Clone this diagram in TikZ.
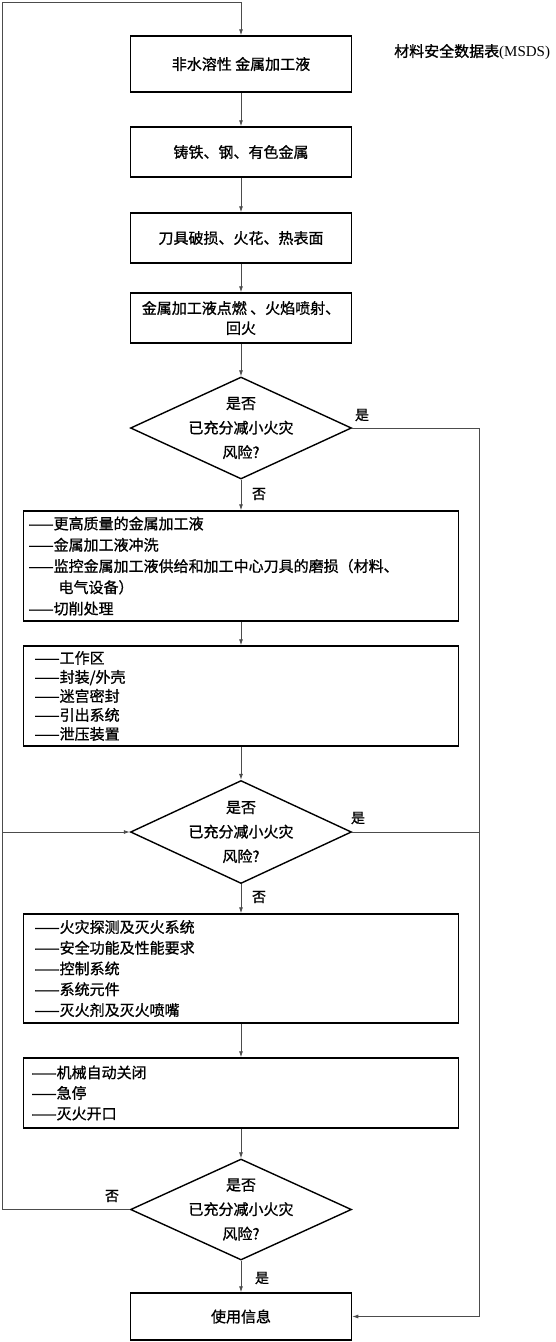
\documentclass[tikz,border=0pt]{standalone}
\usepackage{fontspec}
\setmainfont{Noto Sans CJK SC}[FakeBold=1]
\newfontfamily\latinserif{Liberation Serif}
\usetikzlibrary{shapes.geometric,arrows.meta}

\begin{document}
\begin{tikzpicture}[x=1pt, y=-1pt,
  every node/.style={font=\fontsize{15}{20}\selectfont},
  box/.style={draw, line width=1.5pt, minimum width=221pt, minimum height=50pt, inner sep=0pt, align=center},
  listbox/.style={draw, line width=1.5pt, minimum width=435pt, inner ysep=0pt, align=left},
  decision/.style={diamond, draw, line width=1.4pt, minimum width=221pt, minimum height=102pt, inner sep=0pt},
  flow/.style={-{Latex[length=6pt,width=4pt]}, line width=0.8pt, black!70},
  link/.style={line width=0.8pt, black!70},
  lbl/.style={font=\fontsize{14}{14}\selectfont, inner sep=0pt}]

  \useasboundingbox (0,0) rectangle (556,1342);

  % Upper chain of boxes
  \node[box, minimum height=56pt] (b1) at (241,64) {非水溶性 金属加工液};
  \node[anchor=west, inner sep=0pt] (msds) at (394,52) {材料安全数据表{\latinserif (MSDS)}};
  \node[box] (b2) at (241,152) {铸铁、钢、有色金属};
  \node[box] (b3) at (241,238) {刀具破损、火花、热表面};
  \node[box] (b4) at (241,318) {金属加工液点燃 、火焰喷射、\\回火};

  % First question
  \node[decision] (q1) at (241,428) {};
  \node[align=center, font=\fontsize{15}{24.5}\selectfont] (q1txt) at (q1) {是否\\已充分减小火灾\\风险?};

  % Measures, first round
  \node[listbox, inner xsep=5pt, text width=425pt, minimum height=110pt, font=\fontsize{15}{21.25}\selectfont] (b5) at (241,566)
    {——更高质量的金属加工液\\——金属加工液冲洗\\——监控金属加工液供给和加工中心刀具的磨损（材料、\\\hspace*{2em}电气设备）\\——切削处理};
  \node[listbox, inner xsep=11pt, text width=413pt, minimum height=100pt, font=\fontsize{15}{19}\selectfont] (b6) at (241,696)
    {——工作区\\——封装/外壳\\——迷宫密封\\——引出系统\\——泄压装置};

  % Second question
  \node[decision, minimum height=103pt] (q2) at (241,832) {};
  \node[align=center, font=\fontsize{15}{24.5}\selectfont] (q2txt) at (q2) {是否\\已充分减小火灾\\风险?};

  % Measures, second round
  \node[listbox, inner xsep=11pt, text width=413pt, minimum height=109pt, font=\fontsize{15}{20.75}\selectfont] (b7) at (241,968.5)
    {——火灾探测及灭火系统\\——安全功能及性能要求\\——控制系统\\——系统元件\\——灭火剂及灭火喷嘴};
  \node[listbox, inner xsep=8pt, text width=419pt, minimum height=70pt, font=\fontsize{15}{20.5}\selectfont] (b8) at (241,1093)
    {——机械自动关闭\\——急停\\——灭火开口};

  % Third question and end
  \node[decision, minimum height=101pt] (q3) at (241,1209.5) {};
  \node[align=center, font=\fontsize{15}{24.5}\selectfont] (q3txt) at (q3) {是否\\已充分减小火灾\\风险?};
  \node[box, minimum height=47pt] (b9) at (241,1316.5) {使用信息};

  % Branch labels
  \node[lbl] (yes1) at (362,415) {是};
  \node[lbl] (no1) at (259,494) {否};
  \node[lbl] (yes2) at (358,818) {是};
  \node[lbl] (no2) at (259,897) {否};
  \node[lbl] (no3) at (112,1196) {否};
  \node[lbl] (yes3) at (262,1278) {是};

  % Corners of the side lines
  \coordinate (lc) at (2.5,2);
  \coordinate (rc) at (479,1316.5);

  % Main flow
  \draw[flow] (b1) -- (b2);
  \draw[flow] (b2) -- (b3);
  \draw[flow] (b3) -- (b4);
  \draw[flow] (b4) -- (q1);
  \draw[flow] (q1) -- (b5);
  \draw[flow] (b5) -- (b6);
  \draw[flow] (b6) -- (q2);
  \draw[flow] (q2) -- (b7);
  \draw[flow] (b7) -- (b8);
  \draw[flow] (b8) -- (q3);
  \draw[flow] (q3) -- (b9);

  % Loop back on the left
  \draw[flow] (q3.west) -| (lc) -| (b1.north);
  \draw[flow] (q2.west -| lc) -- (q2.west);

  % Yes branches on the right
  \draw[flow] (q1.east) -| (rc) -- (b9.east);
  \draw[link] (q2.east) -- (q2.east -| rc);

\end{tikzpicture}
\end{document}
